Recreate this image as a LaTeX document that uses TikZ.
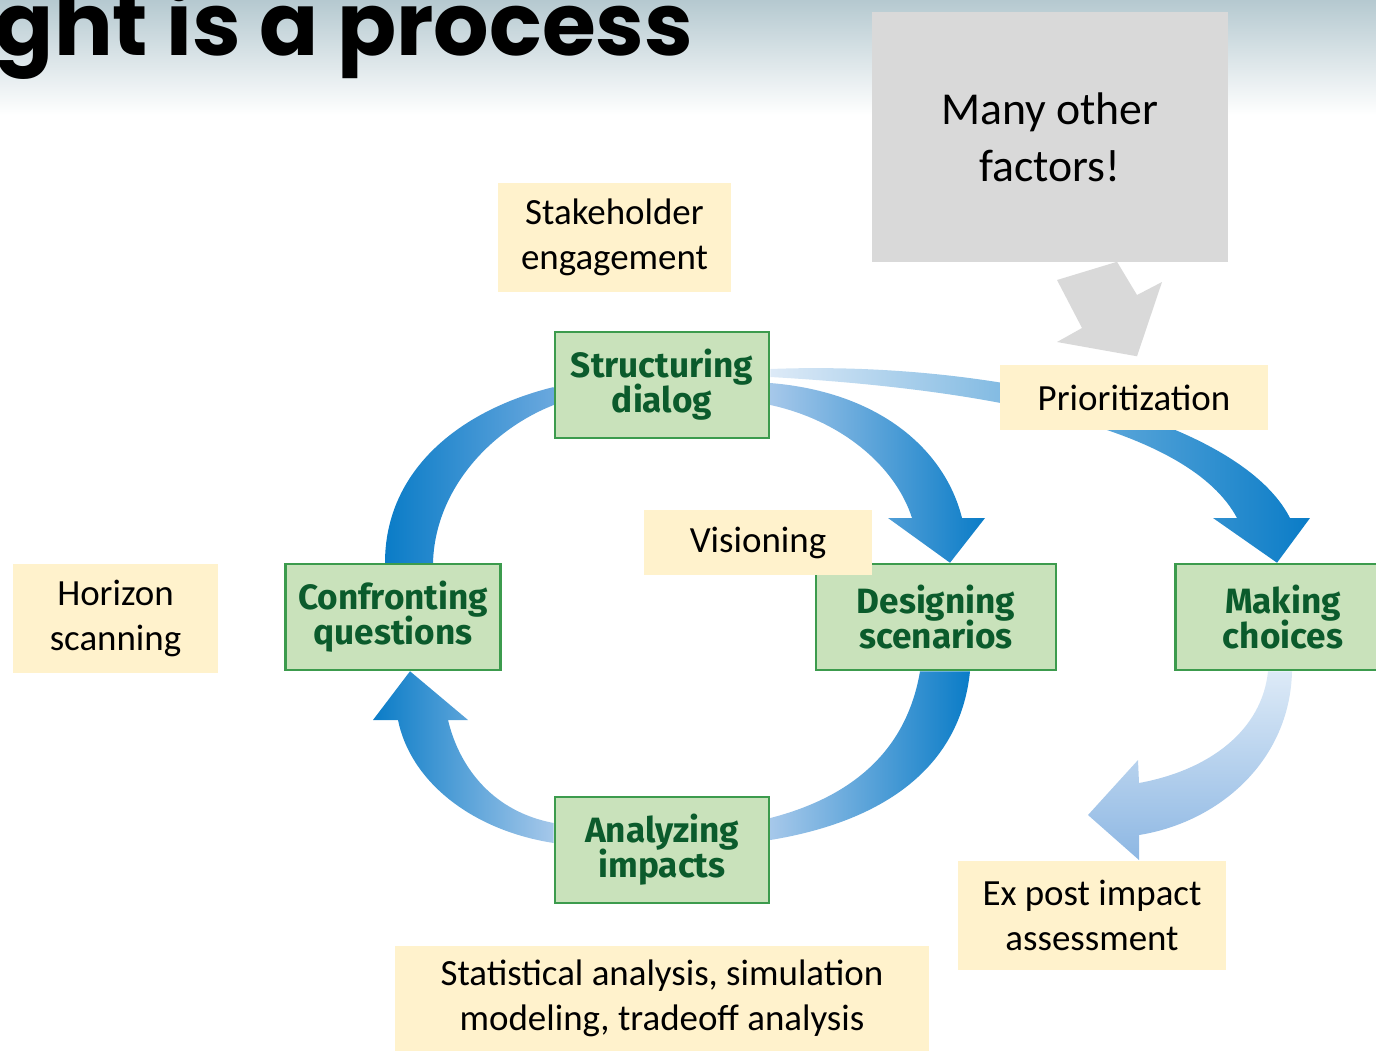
\documentclass[tikz,border=0pt]{standalone}
\usepackage{fontspec}
\setmainfont{Carlito}
\newfontfamily\stagefont{Fira Sans}
\newfontfamily\titlefont{Poppins}
\usetikzlibrary{calc,backgrounds}

\definecolor{labelfill}{HTML}{FFF2CC}
\definecolor{notefill}{HTML}{D9D9D9}
\definecolor{stagefill}{HTML}{C9E2BB}
\definecolor{stageline}{HTML}{3C9B4D}
\definecolor{stagetext}{HTML}{0B5B2C}
\definecolor{bluedark}{HTML}{0A7CC7}
\definecolor{bluemid}{HTML}{6AA8DE}
\definecolor{bluelight}{HTML}{A6C8EA}
\definecolor{bluepale}{HTML}{DDEAF7}
\definecolor{bluesoft}{HTML}{8DB7E3}
\definecolor{skytop}{HTML}{B5C9D0}

\newcommand\stagetype{\stagefont\bfseries\fontsize{10}{10}\selectfont\setlength{\lineskiplimit}{-6pt}\relax}

\tikzset{
  label/.style={rectangle, fill=labelfill, inner sep=0pt, align=center,
    font=\fontsize{10.5}{12.8}\selectfont},
  stage/.style={rectangle, draw=stageline, fill=stagefill, line width=0.7pt,
    minimum width=2.14cm, minimum height=1.06cm, inner sep=0pt, align=center,
    text=stagetext, font=\stagetype},
  note/.style={rectangle, fill=notefill, inner sep=0pt, align=center,
    font=\fontsize{13}{16.2}\selectfont}
}

\begin{document}
\begin{tikzpicture}[x=0.01cm, y=-0.01cm]
  \useasboundingbox (0,0) rectangle (1376,1051);

  % Title
  \node[anchor=base east, inner sep=0pt, font=\titlefont\bfseries\fontsize{24.8}{28}\selectfont] (title) at (694,55) {ght is a process};

  % Stages
  \node[stage] (dialog) at (662,385) {Structuring\\dialog};
  \node[stage, minimum width=2.15cm] (questions) at (393,617) {Confronting\\questions};
  \node[stage, minimum width=2.40cm] (scenarios) at (936,617) {Designing\\scenarios};
  \node[stage, minimum width=2.15cm] (choices) at (1283,617) {Making\\choices};
  \node[stage] (impacts) at (662,850) {Analyzing\\impacts};

  % Labels
  \node[label, minimum width=2.33cm, minimum height=1.09cm] (stake) at (614.5,237.5) {Stakeholder\\engagement};
  \node[label, minimum width=2.68cm, minimum height=0.65cm] (prior) at (1134,397.5) {Prioritization};
  \node[label, minimum width=2.28cm, minimum height=0.65cm] (vision) at (758,542.5) {Visioning};
  \node[label, minimum width=2.05cm, minimum height=1.09cm] (horizon) at (115.5,618.5) {Horizon\\scanning};
  \node[label, minimum width=2.68cm, minimum height=1.09cm] (expost) at (1092,915.5) {Ex post impact\\assessment};
  \node[label, minimum width=5.34cm, minimum height=1.05cm] (stats) at (662,998.5) {Statistical analysis, simulation\\modeling, tradeoff analysis};
  \node[note, minimum width=3.56cm, minimum height=2.50cm] (factors) at (1050,137) {Many other\\factors!};

  \begin{scope}[on background layer]
    \shade[top color=skytop, bottom color=white] (0,0) rectangle (1376,115);

    % Gray arrow
    \fill[notefill] ($(factors.south)+(67,-1)$) -- (1137,295) -- (1162,282)
      -- ($(prior.north)+(3,-8)$) -- (1057,342) -- (1082,328) -- (1057,280) -- cycle;

    % Arrows of the cycle
    \shade[left color=bluelight, right color=bluedark]
      ($(dialog.east)+(0,-2)$) .. controls (880,392) and (945,450) .. (962,518)
      -- (985,518) -- ($(scenarios.north)+(14,0)$) -- (888,518) -- (912,518)
      .. controls (895,465) and (840,420) .. ($(dialog.east)+(0,20)$) -- cycle;
    \shade[left color=bluelight, right color=bluedark]
      ($(scenarios.south)+(34,0)$) .. controls (960,770) and (880,822) .. ($(impacts.east)+(0,-10)$)
      -- ($(impacts.east)+(0,-32)$) .. controls (840,800) and (905,760) .. ($(scenarios.south)+(-16,0)$) -- cycle;
    \shade[left color=bluedark, right color=bluelight]
      ($(impacts.west)+(0,-7)$) .. controls (470,830) and (410,780) .. (398,720)
      -- (373,720) -- ($(questions.south)+(17,0)$) -- (468,720) -- (448,720)
      .. controls (460,770) and (495,812) .. ($(impacts.west)+(0,-27)$) -- cycle;
    \shade[left color=bluedark, right color=bluemid]
      ($(questions.north)+(-8,0)$) .. controls (385,470) and (460,410) .. ($(dialog.west)+(0,2)$)
      -- ($(dialog.west)+(0,20)$) .. controls (490,430) and (435,490) .. ($(questions.north)+(40,0)$) -- cycle;

    % Arrow to choices, behind prioritization
    \shade[left color=bluepale, right color=bluedark]
      ($(dialog.east)+(0,-16)$) .. controls (1000,360) and (1240,420) .. (1290,518)
      -- (1310,518) -- ($(choices.north)+(-6,0)$) -- (1213,518) -- (1237,518)
      .. controls (1190,430) and (1000,390) .. ($(dialog.east)+(0,-8)$) -- cycle;

    % Arrow to ex post
    \shade[top color=bluepale, bottom color=bluesoft]
      ($(choices.south)+(9,0)$) .. controls (1290,760) and (1220,822) .. (1139,835)
      -- (1139,860) -- (1088,815) -- (1138,760) -- (1139,783)
      .. controls (1210,770) and (1262,730) .. ($(choices.south)+(-15,0)$) -- cycle;
  \end{scope}
\end{tikzpicture}
\end{document}
